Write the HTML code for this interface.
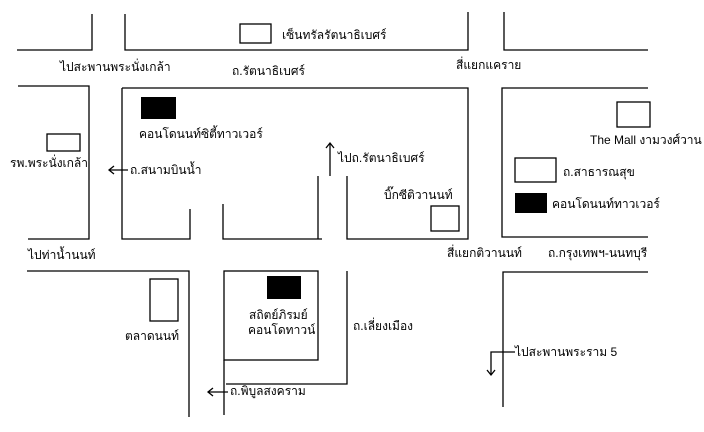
<!DOCTYPE html>
<html><head><meta charset="utf-8"><style>
html,body{margin:0;padding:0;background:#fff;}
svg{display:block}
text{font-family:"Liberation Sans","Noto Sans CJK SC",sans-serif;font-size:12px;fill:#000}
</style></head><body>
<svg width="704" height="432" viewBox="0 0 704 432" xmlns="http://www.w3.org/2000/svg">
<g stroke="#000" stroke-width="1.3" fill="none">
<!-- top row -->
<polyline points="17,50 92,50 92,14"/>
<polyline points="125,14 125,50 468,50 468,12"/>
<polyline points="504,12 504,50 648,50"/>
<!-- middle row -->
<polyline points="18,86 89,86 89,239 28,239"/>
<polyline points="122,88 468,88 468,239 347,239 347,176"/>
<polyline points="122,88 122,239 190,239 190,209"/>
<polyline points="223,204 223,239 322,239"/>
<line x1="318" y1="176" x2="318" y2="239"/>
<polyline points="648,88 502,88 502,237 648,237"/>
<!-- bottom row -->
<polyline points="27,271 189,271 189,417"/>
<rect x="224" y="271" width="94" height="89"/>
<line x1="224" y1="360" x2="224" y2="415"/>
<polyline points="226,384 347,384 347,271"/>
<polyline points="648,272 503,272 503,407"/>
<!-- white boxes -->
<rect x="240" y="24" width="31" height="19"/>
<rect x="47" y="134" width="33" height="17"/>
<rect x="150" y="279" width="28" height="42"/>
<rect x="431" y="206" width="28" height="25"/>
<rect x="617" y="102" width="33" height="25"/>
<rect x="515" y="158" width="41" height="24"/>
<!-- arrows -->
<line x1="109" y1="170" x2="128" y2="170"/>
<polyline points="114,166 109,170 114,174"/>
<line x1="330" y1="143" x2="330" y2="176"/>
<polyline points="326,148 330,143 334,148"/>
<line x1="208" y1="392" x2="228" y2="392"/>
<polyline points="213,388 208,392 213,396"/>
<polyline points="515,352 491,352 491,375"/>
<polyline points="487,370 491,375 495,370"/>
</g>
<g fill="#000">
<rect x="141" y="97" width="35" height="22"/>
<rect x="267" y="276" width="34" height="23"/>
<rect x="515" y="193" width="32" height="20"/>
</g>
<text x="282" y="39">เซ็นทรัลรัตนาธิเบศร์</text>
<text x="60" y="71">ไปสะพานพระนั่งเกล้า</text>
<text x="232" y="75">ถ.รัตนาธิเบศร์</text>
<text x="456" y="69">สี่แยกแคราย</text>
<text x="139" y="138">คอนโดนนท์ซิตี้ทาวเวอร์</text>
<text x="10" y="167">รพ.พระนั่งเกล้า</text>
<text x="130" y="174">ถ.สนามบินน้ำ</text>
<text x="338" y="162">ไปถ.รัตนาธิเบศร์</text>
<text x="590" y="144">The Mall งามวงศ์วาน</text>
<text x="563" y="176">ถ.สาธารณสุข</text>
<text x="552" y="208">คอนโดนนท์ทาวเวอร์</text>
<text x="384" y="199">บิ๊กซีติวานนท์</text>
<text x="28" y="259">ไปท่าน้ำนนท์</text>
<text x="447" y="257">สี่แยกติวานนท์</text>
<text x="548" y="257">ถ.กรุงเทพฯ-นนทบุรี</text>
<text x="125" y="340">ตลาดนนท์</text>
<text x="249" y="319">สถิตย์ภิรมย์</text>
<text x="248" y="334">คอนโดทาวน์</text>
<text x="353" y="330">ถ.เลี่ยงเมือง</text>
<text x="515" y="356">ไปสะพานพระราม 5</text>
<text x="230" y="395">ถ.พิบูลสงคราม</text>
</svg>
</body></html>
